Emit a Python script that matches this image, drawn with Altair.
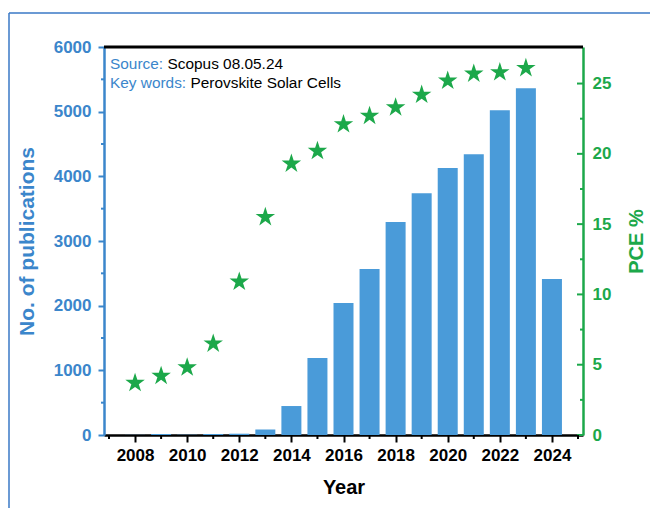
import altair as alt
import pandas as pd

# ---- data ----
years = list(range(2008, 2025))
publications = [2, 15, 4, 15, 20, 85, 448, 1190, 2040, 2566, 3292, 3740, 4127, 4343, 5023, 5363, 2411]
pce_years = list(range(2008, 2024))
pce = [3.7, 4.2, 4.8, 6.5, 10.9, 15.5, 19.3, 20.2, 22.1, 22.7, 23.3, 24.2, 25.2, 25.7, 25.8, 26.1]

x_major = list(range(2008, 2025, 2))
x_minor = list(range(2007, 2026, 2))
pub_major = list(range(0, 6001, 1000))
pub_minor = list(range(500, 6000, 1000))
pce_major = [0, 5, 10, 15, 20, 25]
pce_minor = [2.5, 7.5, 12.5, 17.5, 22.5]

note_keys = ["Source:", "Key words:"]
note_vals = ["Scopus 08.05.24", "Perovskite Solar Cells"]

W, H = 479, 388
FONT = "Liberation Sans"
BAR = "#4a9bd9"
BLUE = "#3b86cb"
GREEN = "#1ca84a"
STAR = "M0,-1L0.2245,-0.309L0.951,-0.309L0.363,0.118L0.588,0.809L0,0.382L-0.588,0.809L-0.363,0.118L-0.951,-0.309L-0.2245,-0.309Z"

bars_df = pd.DataFrame({"year": years, "pubs": publications})
pce_df = pd.DataFrame({"year": pce_years, "pce": pce})
one = pd.DataFrame({"a": [0]})

x_scale = alt.Scale(domain=[2007, 2025], nice=False, zero=False)
x_axis = alt.Axis(
    values=x_major, format="d",
    title="Year", titleFontSize=20, titleFont=FONT, titleFontWeight="bold",
    titleColor="black", titlePadding=14,
    labelFont=FONT, labelFontSize=17, labelFontWeight="bold", labelColor="black",
    labelPadding=5, labelFlush=False, labelOverlap=False,
    domainColor="black", domainWidth=2.5,
    tickColor="black", tickWidth=2, tickSize=7,
    grid=False,
)
x_enc = alt.X("year:Q", scale=x_scale, axis=x_axis)

pub_scale = alt.Scale(domain=[0, 6000], nice=False)
pce_scale = alt.Scale(domain=[0, 27.6], nice=False)

left_axis = alt.Axis(
    orient="left", values=pub_major, format="d",
    title="No. of publications", titleFontSize=21, titleFont=FONT,
    titleFontWeight="bold", titleColor=BLUE, titlePadding=16,
    labelFont=FONT, labelFontSize=17, labelFontWeight="bold", labelColor=BLUE,
    labelPadding=7, labelFlush=False, labelOverlap=False,
    domainColor=BLUE, domainWidth=2.5, tickColor=BLUE, tickWidth=2, tickSize=6,
    grid=False,
)
right_axis = alt.Axis(
    orient="right", values=pce_major, format="d",
    title="PCE %", titleFontSize=20, titleFont=FONT, titleAngle=270,
    titleFontWeight="bold", titleColor=GREEN, titlePadding=36,
    labelFont=FONT, labelFontSize=17, labelFontWeight="bold", labelColor=GREEN,
    labelPadding=9, labelFlush=False, labelOverlap=False,
    domainColor=GREEN, domainWidth=2.5, ticks=False,
    grid=False,
)
y_pub = alt.Y("pubs:Q", scale=pub_scale, axis=left_axis)
y_pce = alt.Y("pce:Q", scale=pce_scale, axis=right_axis)

bars = alt.Chart(bars_df).mark_bar(color=BAR, width=20).encode(x=x_enc, y=y_pub)

left_minor = alt.Chart(pd.DataFrame({"pubs": pub_minor})).mark_rule(
    color=BLUE, strokeWidth=2
).encode(y=y_pub, x=alt.value(-3), x2=alt.value(0))

stars = alt.Chart(pce_df).mark_point(
    shape=STAR, size=420, filled=True, color=GREEN, opacity=1
).encode(x=x_enc, y=y_pce)

right_major = alt.Chart(pd.DataFrame({"pce": pce_major})).mark_rule(
    color=GREEN, strokeWidth=2
).encode(y=y_pce, x=alt.value(W - 6), x2=alt.value(W))
right_minor = alt.Chart(pd.DataFrame({"pce": pce_minor})).mark_rule(
    color=GREEN, strokeWidth=2
).encode(y=y_pce, x=alt.value(W - 3), x2=alt.value(W))

x_minor_ticks = alt.Chart(pd.DataFrame({"year": x_minor})).mark_rule(
    color="black", strokeWidth=2
).encode(x=x_enc, y=alt.value(H), y2=alt.value(H + 4))

top_border = alt.Chart(one).mark_rule(color="black", strokeWidth=3).encode(
    x=alt.value(0), x2=alt.value(W), y=alt.value(0)
)
frame_top = alt.Chart(one).mark_rule(color="#3a78c6", strokeWidth=1.5).encode(
    x=alt.value(-95), x2=alt.value(W + 80), y=alt.value(-34)
)
frame_left = alt.Chart(one).mark_rule(color="#3a78c6", strokeWidth=1.5).encode(
    x=alt.value(-95), y=alt.value(-34), y2=alt.value(H + 80)
)


def note(txt, x, y, color):
    return alt.Chart(one).mark_text(
        align="left", baseline="alphabetic", font=FONT, fontSize=15.4, color=color
    ).encode(x=alt.value(x), y=alt.value(y), text=alt.value(txt))


notes = [
    note(note_keys[0], 6, 22, BLUE),
    note(note_vals[0], 63.5, 22, "black"),
    note(note_keys[1], 6, 41, BLUE),
    note(note_vals[1], 86.5, 41, "black"),
]

left_group = alt.layer(bars, left_minor)
right_group = alt.layer(stars, right_major, right_minor)

chart = alt.layer(
    left_group, right_group, x_minor_ticks, top_border, frame_top, frame_left, *notes
).resolve_scale(y="independent").properties(
    width=W, height=H,
    autosize=alt.AutoSizeParams(type="none"),
    padding={"left": 104, "top": 47, "right": 650 - 104 - W, "bottom": 508 - 47 - H},
).configure_view(stroke=None).configure(background="white")

chart.save("out.html", embed_options={"renderer": "svg", "actions": False})
